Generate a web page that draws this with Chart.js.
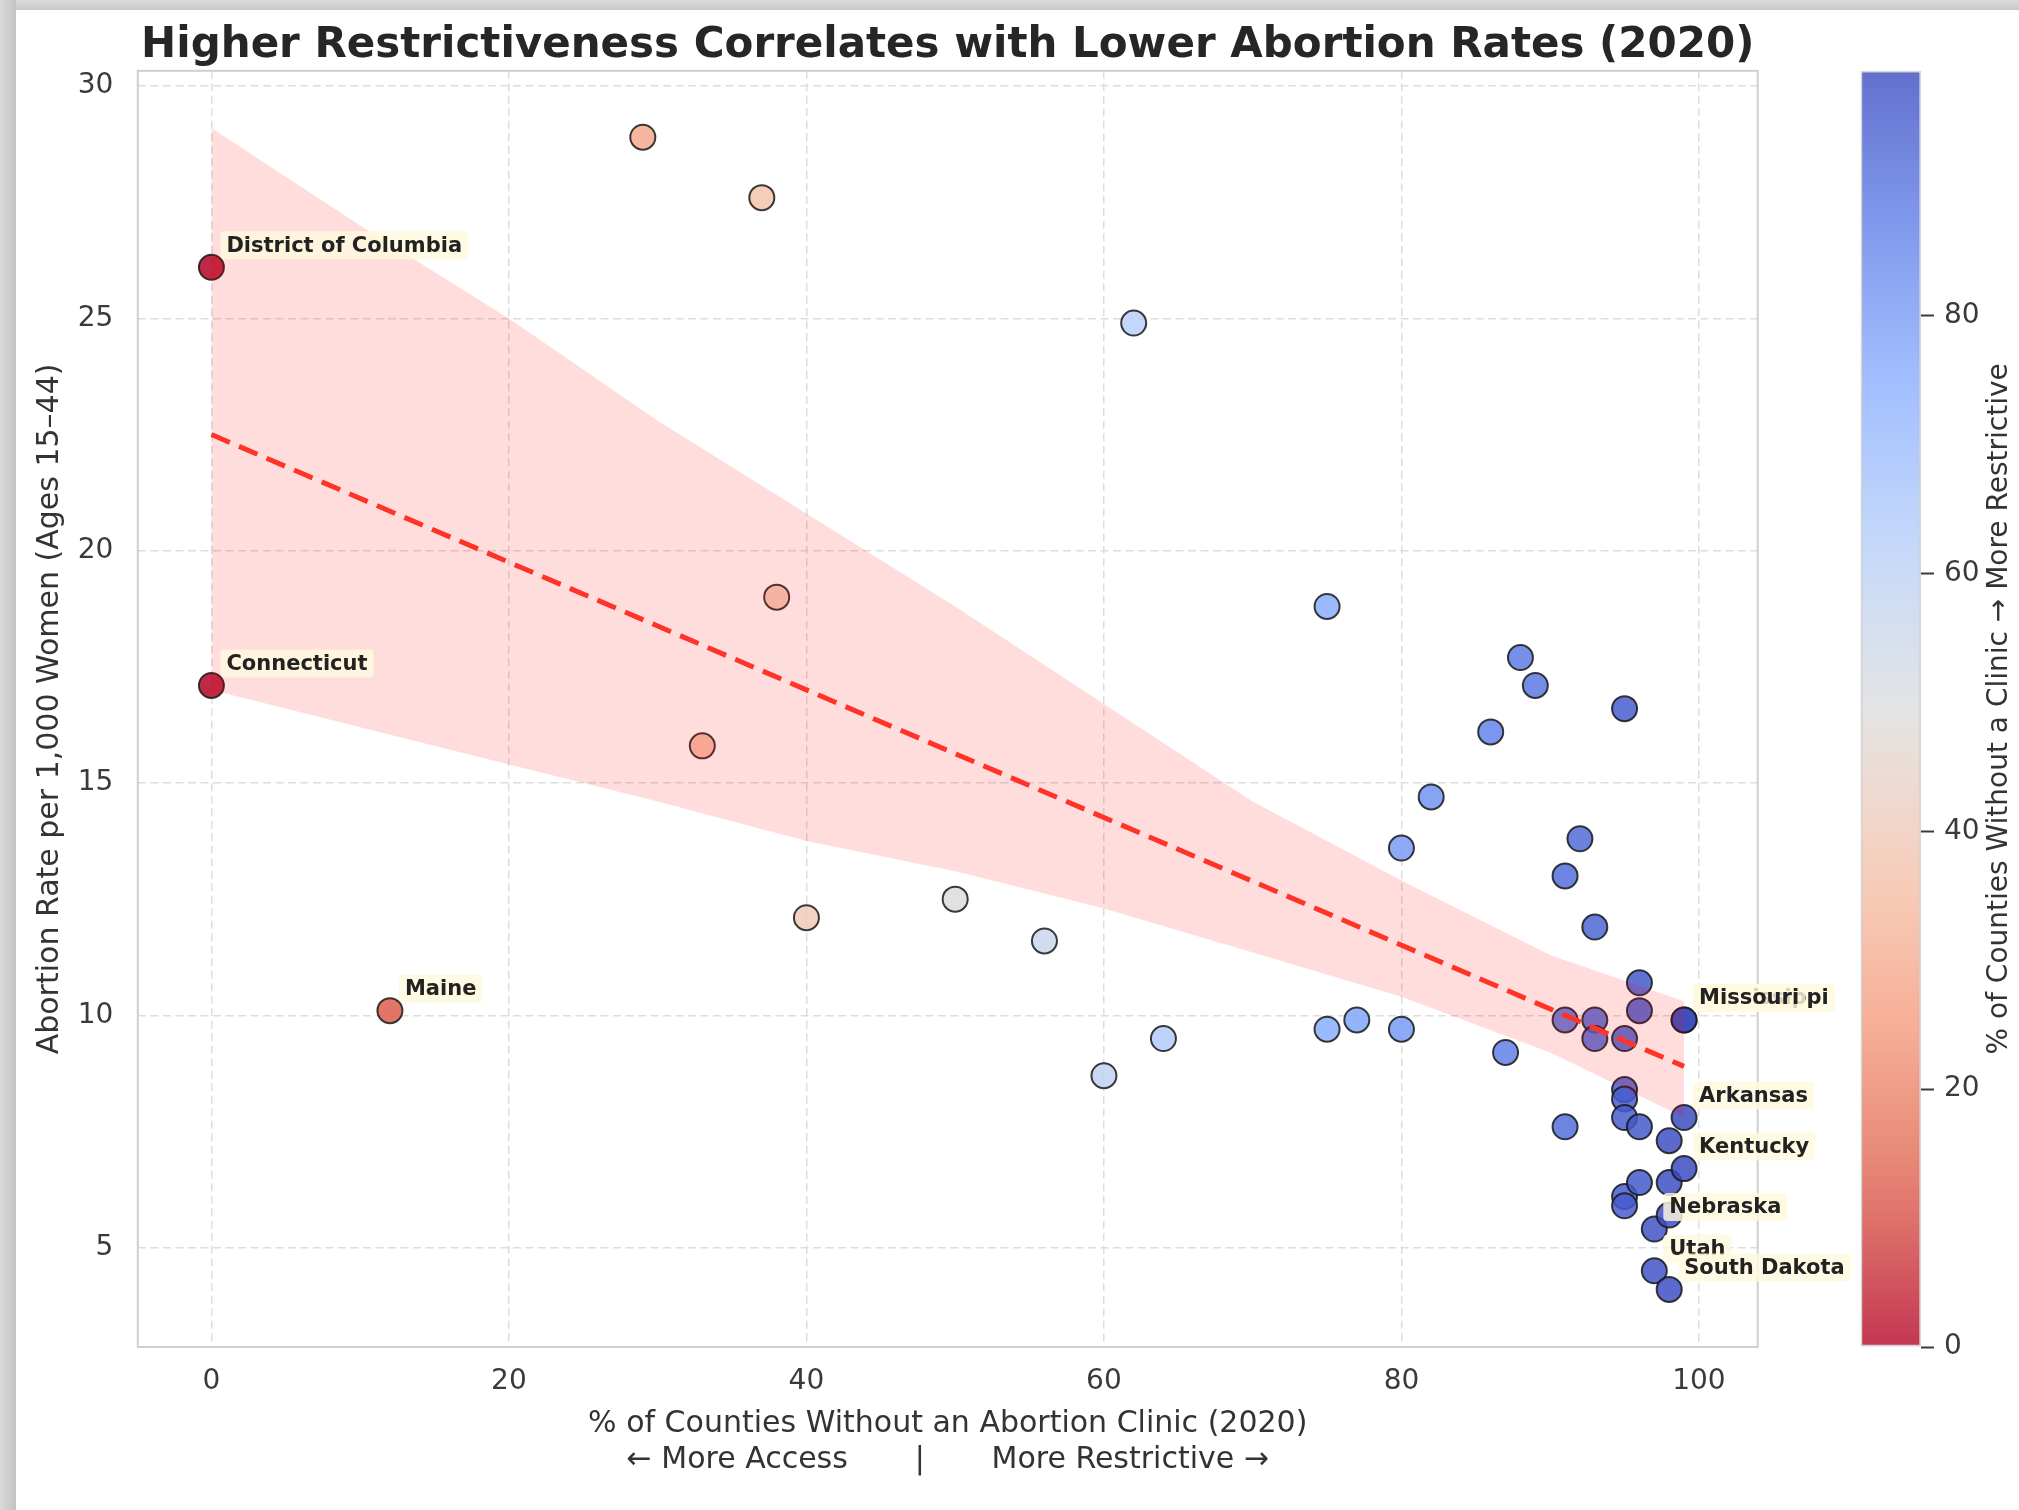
<!DOCTYPE html>
<html>
<head>
<meta charset="utf-8">
<title>Restrictiveness vs Abortion Rates (2020)</title>
<script src="https://cdn.jsdelivr.net/npm/chart.js@4.4.1/dist/chart.umd.min.js"></script>
<style>
    html, body { margin: 0; padding: 0; background: #fff; }
    body { width: 2019px; height: 1510px; position: relative; overflow: hidden; }
    #topShade { position: absolute; left: 0; top: 0; width: 2019px; height: 10px; background: linear-gradient(#dcdcdc, #c8c8c8); }
    #leftShade { position: absolute; left: 0; top: 0; width: 16px; height: 1510px; background: linear-gradient(to right, #dadada, #c3c3c3); }
    #main { position: absolute; left: 0; top: 0; }
    #cbar { position: absolute; left: 1800px; top: 0; }
</style>
</head>
<body>
<div id="topShade"></div>
<div id="leftShade"></div>
<canvas id="main" width="2019" height="1510"></canvas>
<canvas id="cbar" width="219" height="1510"></canvas>
<script>
'use strict';

// % of counties without a clinic (x) and abortion rate per 1,000 women (y), one entry per state
var pctNoClinic = [0, 0, 12, 29, 33, 37, 38, 40, 50, 56, 60, 62, 64, 75, 75, 77, 80, 80, 82, 86, 87, 88, 89,
    91, 91, 91, 92, 93, 93, 93, 95, 95, 95, 95, 95, 95, 95, 96, 96, 96, 96, 97, 97, 98, 98, 98, 98, 99, 99, 99, 99];
var abortionRate = [26.1, 17.1, 10.1, 28.9, 15.8, 27.6, 19.0, 12.1, 12.5, 11.6, 8.7, 24.9, 9.5, 18.8, 9.7, 9.9, 13.6, 9.7, 14.7, 16.1, 9.2, 17.7, 17.1,
    13.0, 9.9, 7.6, 13.8, 11.9, 9.9, 9.5, 16.6, 9.5, 8.4, 8.2, 7.8, 6.1, 5.9, 10.7, 10.1, 7.6, 6.4, 5.4, 4.5, 7.3, 6.4, 5.7, 4.1, 9.9, 9.9, 7.8, 6.7];

// annotated states (index into the arrays above)
var labelIdx = [0, 1, 2, 47, 48, 49, 50, 41, 42, 46];
var labelNames = ['District of Columbia', 'Connecticut', 'Maine', 'Mississippi', 'Missouri', 'Arkansas', 'Kentucky', 'Nebraska', 'Utah', 'South Dakota'];

// regression line and its confidence band
var fitX = [0, 99];
var fitY = [22.5, 8.9];
var ciX = [0, 10, 20, 30, 40, 50, 60, 70, 80, 90, 99];
var ciUpper = [29.1, 27.0, 25.0, 22.8, 20.8, 18.8, 16.7, 14.6, 12.9, 11.3, 10.3];
var ciLower = [17.0, 16.2, 15.4, 14.6, 13.75, 13.1, 12.3, 11.35, 10.4, 9.2, 7.8];

var xTicks = [0, 20, 40, 60, 80, 100];
var yTicks = [5, 10, 15, 20, 25, 30];
var cbarTicks = [0, 20, 40, 60, 80];
var cbarMax = 99;

// matplotlib coolwarm, sampled
var coolwarm = [[59, 76, 192], [98, 130, 234], [141, 176, 254], [184, 208, 249], [221, 221, 221],
    [245, 196, 173], [244, 154, 123], [222, 96, 77], [180, 4, 38]];

function coolwarmR(v, a) {
    var t = 1 - Math.max(0, Math.min(1, v / cbarMax));
    var p = t * (coolwarm.length - 1);
    var i = Math.min(coolwarm.length - 2, Math.floor(p));
    var f = p - i;
    var c = [0, 1, 2].map(function (k) {
        return Math.round(coolwarm[i][k] + (coolwarm[i + 1][k] - coolwarm[i][k]) * f);
    });
    return 'rgba(' + c[0] + ',' + c[1] + ',' + c[2] + ',' + a + ')';
}

function pairs(xs, ys) {
    return xs.map(function (x, i) { return {x: x, y: ys[i]}; });
}

Chart.defaults.font.family = '"DejaVu Sans", sans-serif';

var frame = {
    id: 'frame',
    beforeDatasetsDraw: function (chart) {
        var a = chart.chartArea, ctx = chart.ctx;
        ctx.save();
        ctx.strokeStyle = '#cfcfcf';
        ctx.lineWidth = 2;
        ctx.strokeRect(a.left, a.top, a.right - a.left, a.bottom - a.top);
        ctx.restore();
    }
};

var stateLabels = {
    id: 'stateLabels',
    afterDatasetsDraw: function (chart) {
        var ctx = chart.ctx, xs = chart.scales.x, ys = chart.scales.y;
        ctx.save();
        ctx.font = 'bold 21px "DejaVu Sans"';
        ctx.textBaseline = 'middle';
        labelIdx.forEach(function (i, k) {
            var px = xs.getPixelForValue(pctNoClinic[i]) + 15;
            var py = ys.getPixelForValue(abortionRate[i]) - 22;
            var w = ctx.measureText(labelNames[k]).width;
            ctx.fillStyle = 'rgba(255,249,222,0.82)';
            ctx.beginPath();
            ctx.roundRect(px - 6, py - 14, w + 12, 28, 4);
            ctx.fill();
            ctx.fillStyle = '#222';
            ctx.fillText(labelNames[k], px, py + 1);
        });
        ctx.restore();
    }
};

new Chart(document.getElementById('main'), {
    type: 'scatter',
    data: {
        datasets: [{
                type: 'line',
                data: pairs(fitX, fitY),
                borderColor: '#ff3326',
                borderWidth: 5,
                borderDash: [20, 10],
                pointRadius: 0,
                fill: false,
                order: 0
            }, {
                type: 'line',
                data: pairs(ciX, ciUpper),
                borderWidth: 0,
                pointRadius: 0,
                backgroundColor: 'rgba(255,0,0,0.135)',
                fill: '+1',
                order: 1
            }, {
                type: 'line',
                data: pairs(ciX, ciLower),
                borderWidth: 0,
                pointRadius: 0,
                fill: false,
                order: 2
            }, {
                data: pairs(pctNoClinic, abortionRate),
                pointRadius: 12.5,
                pointBorderWidth: 2,
                pointBorderColor: 'rgba(25,25,25,0.85)',
                pointBackgroundColor: pctNoClinic.map(function (v) { return coolwarmR(v, 0.85); }),
                order: 3
            }
        ]
    },
    options: {
        responsive: false,
        animation: false,
        events: [],
        layout: {padding: {left: 0, top: 0, bottom: 0, right: 261.3}},
        plugins: {
            legend: {display: false},
            tooltip: {enabled: false},
            title: {
                display: true,
                text: 'Higher Restrictiveness Correlates with Lower Abortion Rates (2020)',
                font: {size: 42, weight: 'bold', lineHeight: 1.1},
                color: '#262626',
                padding: {top: 23, bottom: 1.6},
                fullSize: false
            }
        },
        scales: {
            x: {
                min: -4.95,
                max: 103.95,
                afterFit: function (s) { s.height = 163; },
                afterBuildTicks: function (s) { s.ticks = xTicks.map(function (v) { return {value: v}; }); },
                ticks: {font: {size: 28}, color: '#3a3a3a', padding: 18},
                grid: {color: '#dddddd', lineWidth: 1.5, drawTicks: false},
                border: {display: false, dash: [8, 4.5]},
                title: {
                    display: true,
                    text: ['% of Counties Without an Abortion Clinic (2020)', '\u2190 More Access       |       More Restrictive \u2192'],
                    font: {size: 30},
                    color: '#333',
                    padding: {top: 0, bottom: 32}
                }
            },
            y: {
                min: 2.86,
                max: 30.33,
                afterFit: function (s) { s.width = 137.8; },
                afterBuildTicks: function (s) { s.ticks = yTicks.map(function (v) { return {value: v}; }); },
                ticks: {font: {size: 28}, color: '#3a3a3a', padding: 24.5},
                grid: {color: '#dddddd', lineWidth: 1.5, drawTicks: false},
                border: {display: false, dash: [8, 4.5]},
                title: {
                    display: true,
                    text: 'Abortion Rate per 1,000 Women (Ages 15\u201344)',
                    font: {size: 30},
                    color: '#333',
                    padding: {top: 32, bottom: 0}
                }
            }
        }
    },
    plugins: [frame, stateLabels]
});

// colour bar
var cbarTitle = {
    id: 'cbarTitle',
    afterDraw: function (chart) {
        var ctx = chart.ctx, a = chart.chartArea;
        ctx.save();
        ctx.translate(200, (a.top + a.bottom) / 2);
        ctx.rotate(-Math.PI / 2);
        ctx.font = '28px "DejaVu Sans"';
        ctx.fillStyle = '#333';
        ctx.textAlign = 'center';
        ctx.textBaseline = 'middle';
        ctx.fillText('% of Counties Without a Clinic \u2192 More Restrictive', 0, 0);
        ctx.restore();
    }
};

new Chart(document.getElementById('cbar'), {
    type: 'bar',
    data: {
        labels: ['restrictiveness'],
        datasets: [{
                data: [[0, cbarMax]],
                backgroundColor: function (c) {
                    var a = c.chart.chartArea;
                    if (!a) {
                        return coolwarmR(50, 0.8);
                    }
                    var g = c.chart.ctx.createLinearGradient(0, a.bottom, 0, a.top);
                    for (var s = 0; s <= 20; s++) {
                        g.addColorStop(s / 20, coolwarmR(cbarMax * s / 20, 0.8));
                    }
                    return g;
                },
                borderColor: '#d6d6d6',
                borderWidth: 2,
                borderSkipped: false,
                barPercentage: 1,
                categoryPercentage: 1
            }]
    },
    options: {
        responsive: false,
        animation: false,
        events: [],
        layout: {padding: {left: 60.6, top: 70.8, bottom: 163, right: 0}},
        plugins: {legend: {display: false}, tooltip: {enabled: false}},
        scales: {
            x: {display: false},
            y: {
                position: 'right',
                min: 0,
                max: cbarMax,
                afterFit: function (s) { s.width = 98; },
                afterBuildTicks: function (s) { s.ticks = cbarTicks.map(function (v) { return {value: v}; }); },
                ticks: {font: {size: 28}, color: '#3a3a3a', padding: 10},
                grid: {drawOnChartArea: false, tickLength: 13, tickWidth: 2, tickColor: '#3a3a3a', color: '#3a3a3a'},
                border: {display: false}
            }
        }
    },
    plugins: [cbarTitle]
});
</script>
</body>
</html>
